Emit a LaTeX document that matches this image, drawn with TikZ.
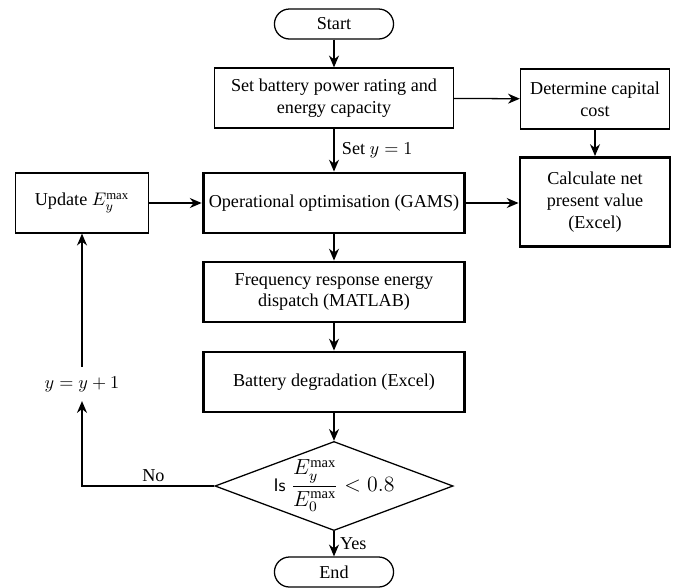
\documentclass[tikz,border=0pt]{standalone}
\usepackage{fontspec}
\setmainfont{Liberation Serif}
\usepackage{amsmath}
\usetikzlibrary{shapes.geometric, arrows.meta}

\tikzset{
  box/.style={draw, line width=0.7pt, minimum height=33pt, align=center, inner sep=2pt},
  toolbox/.style={box, line width=1.6pt},
  term/.style={draw, line width=0.7pt, rounded corners=8.25pt,
    minimum width=65.5pt, minimum height=16.5pt},
  decide/.style={draw, diamond, line width=0.7pt, aspect=2.67,
    minimum width=131pt, minimum height=49pt, inner sep=-4pt},
  flow/.style={-{Stealth[length=6.5pt,width=5.5pt]}, line width=0.7pt}
}

\begin{document}
\begin{tikzpicture}[x=0.55pt,y=-0.55pt]
  \useasboundingbox (0,0) rectangle (683,587);
  % main column
  \node[term] (start) at (334,24) {Start};
  \node[box, minimum width=131.5pt] (set) at (334,98)
    {Set battery power rating and\\energy capacity};
  \node[toolbox, minimum width=144pt] (opt) at (334,203)
    {Operational optimisation (GAMS)};
  \node[toolbox, minimum width=144pt] (freq) at (334,292)
    {Frequency response energy\\dispatch (MATLAB)};
  \node[toolbox, minimum width=144pt] (batt) at (334,382)
    {Battery degradation (Excel)};
  \node[decide, font=\large] (check) at (334,486)
    {\textsf{\normalsize Is} $\displaystyle\frac{E_y^{\max}}{E_0^{\max}} < 0.8$};
  \node[term] (stop) at (334,572) {End};
  % side boxes
  \node[box, minimum width=82pt] (cost) at (595,99)
    {Determine capital\\cost};
  \node[toolbox, minimum width=82.5pt, minimum height=49pt] (npv) at (595,202)
    {Calculate net\\present value\\(Excel)};
  \node[box, minimum width=73pt] (update) at (82,203) {Update $E_y^{\max}$};
  \node[inner sep=5pt] (inc) at (82,384) {$y = y + 1$};

  \draw[flow] (start) -- (set);
  \draw[flow] (set) -- node[right, inner sep=4pt] {Set $y = 1$} (opt);
  \draw[flow] (set) -- (cost);
  \draw[flow] (cost) -- (npv);
  \draw[flow] (opt.east) -- (opt.east -| npv.west);
  \draw[flow] (update) -- (opt);
  \draw[flow] (opt) -- (freq);
  \draw[flow] (freq) -- (batt);
  \draw[flow] (batt) -- (check);
  \draw[flow] (check) -- node[right, inner sep=3pt] {Yes} (stop);
  \draw[flow] (check.west) -| node[above, pos=0.23, inner sep=2pt] {No} (inc);
  \draw[flow] (inc) -- (update);
\end{tikzpicture}
\end{document}
